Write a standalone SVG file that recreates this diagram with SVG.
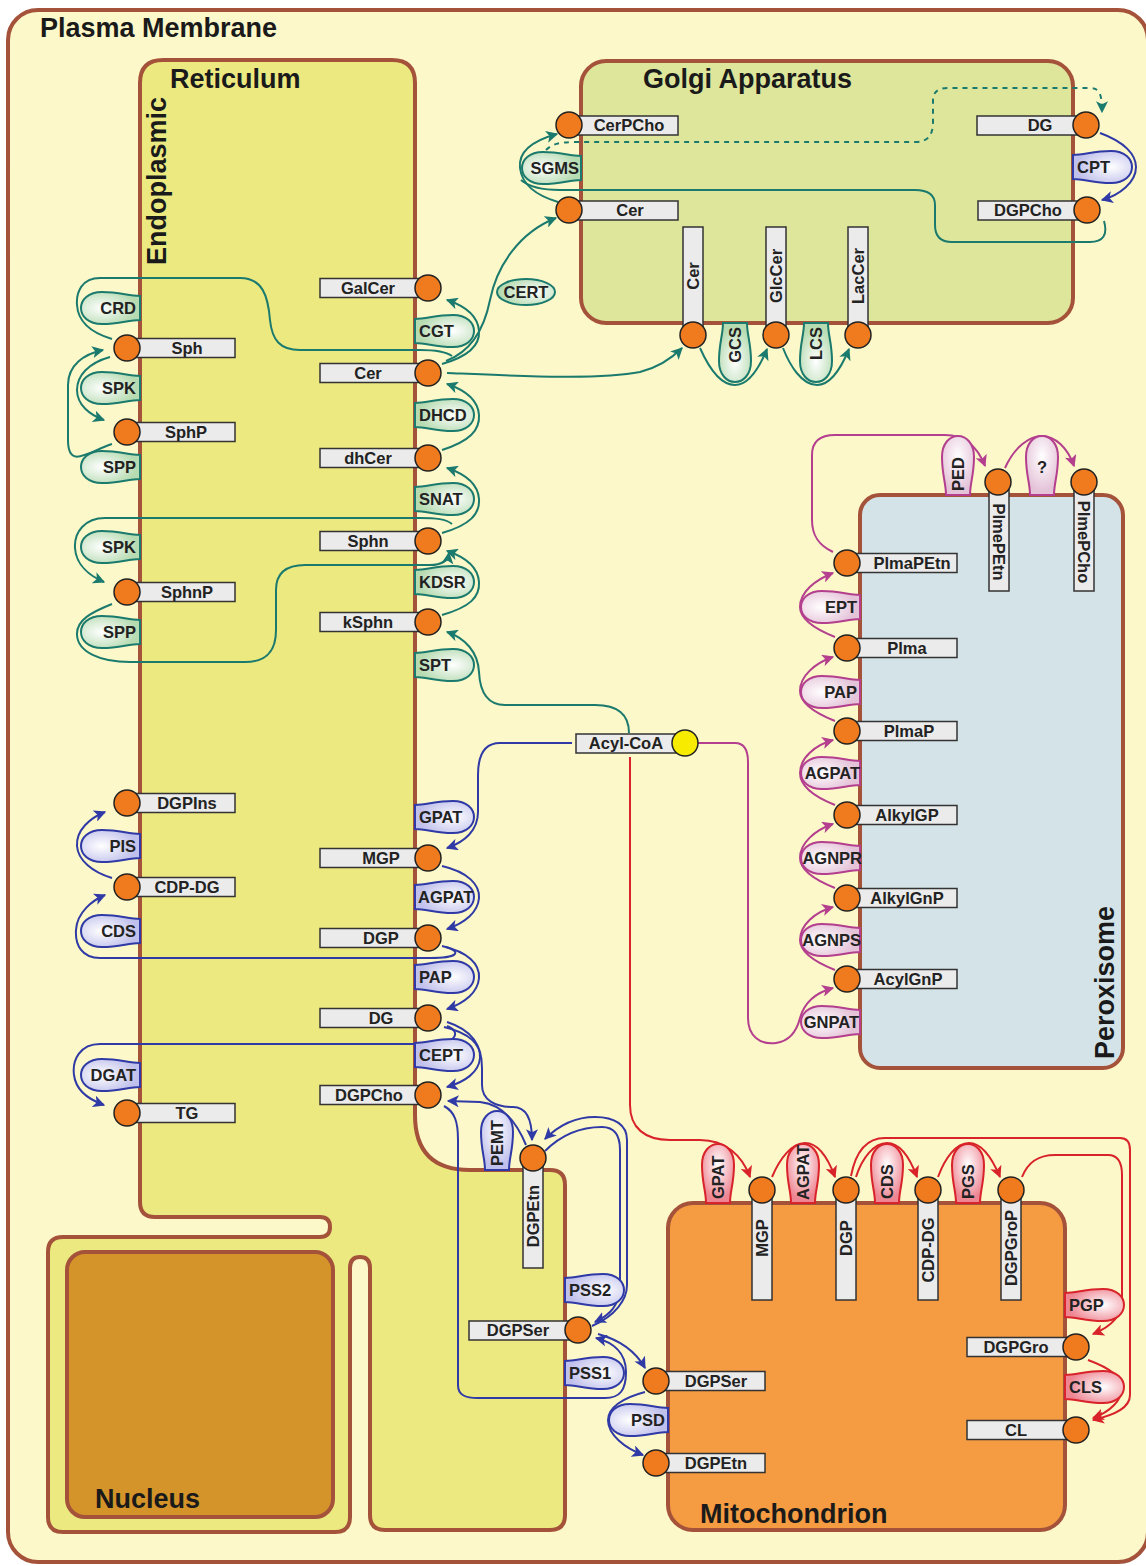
<svg xmlns="http://www.w3.org/2000/svg" xmlns:xlink="http://www.w3.org/1999/xlink" width="1146" height="1566" viewBox="0 0 1146 1566">
<style>
.mem{stroke:#a5523b;stroke-width:4}
.box{fill:#ebebeb;stroke:#333;stroke-width:1.5}
.dot{fill:#f07a1e;stroke:#222;stroke-width:1.5}
.yel{fill:#f7ec00;stroke:#222;stroke-width:1.5}
.lbl{font-family:"Liberation Sans",Arial,sans-serif;font-weight:bold;font-size:16.5px;fill:#222}
.mid{text-anchor:middle}
.end{text-anchor:end}
.title{font-family:"Liberation Sans",Arial,sans-serif;font-weight:bold;font-size:27px;fill:#1a1a1a}
.eg{fill:url(#gG);stroke:#1b7a6e;stroke-width:2}
.eb{fill:url(#gB);stroke:#2f3aa6;stroke-width:2}
.ep{fill:url(#gP);stroke:#b33f8e;stroke-width:2}
.er{fill:url(#gR);stroke:#d8232a;stroke-width:2}
.cg{fill:none;stroke:#1b7a6e;stroke-width:2}
.cb{fill:none;stroke:#2f3aa6;stroke-width:2}
.cp{fill:none;stroke:#b33f8e;stroke-width:2}
.cr{fill:none;stroke:#d8232a;stroke-width:2}
.ag{marker-end:url(#aG)}
.ab{marker-end:url(#aB)}
.ap{marker-end:url(#aP)}
.ar{marker-end:url(#aR)}
.dash{stroke-dasharray:5 5}
</style>
<defs>
<radialGradient id="gG" cx="0.65" cy="0.5" r="0.6"><stop offset="0" stop-color="#ffffff"/><stop offset="1" stop-color="#b6dbb1"/></radialGradient>
<radialGradient id="gB" cx="0.65" cy="0.5" r="0.6"><stop offset="0" stop-color="#ffffff"/><stop offset="1" stop-color="#c0c0ec"/></radialGradient>
<radialGradient id="gP" cx="0.65" cy="0.5" r="0.6"><stop offset="0" stop-color="#ffffff"/><stop offset="1" stop-color="#e4c2d8"/></radialGradient>
<radialGradient id="gR" cx="0.65" cy="0.5" r="0.6"><stop offset="0" stop-color="#ffffff"/><stop offset="1" stop-color="#ee8592"/></radialGradient>
<path id="bulb" d="M0,-12 C12,-12 20,-16 38,-16 C66,-16 66,16 38,16 C20,16 12,12 0,12 Z"/>
<marker id="aG" viewBox="0 0 10 10" refX="9" refY="5" markerWidth="12" markerHeight="12" markerUnits="userSpaceOnUse" orient="auto"><path d="M0,0 L10,5 L0,10 L2.5,5 Z" fill="#1b7a6e"/></marker>
<marker id="aB" viewBox="0 0 10 10" refX="9" refY="5" markerWidth="12" markerHeight="12" markerUnits="userSpaceOnUse" orient="auto"><path d="M0,0 L10,5 L0,10 L2.5,5 Z" fill="#2f3aa6"/></marker>
<marker id="aP" viewBox="0 0 10 10" refX="9" refY="5" markerWidth="12" markerHeight="12" markerUnits="userSpaceOnUse" orient="auto"><path d="M0,0 L10,5 L0,10 L2.5,5 Z" fill="#b33f8e"/></marker>
<marker id="aR" viewBox="0 0 10 10" refX="9" refY="5" markerWidth="12" markerHeight="12" markerUnits="userSpaceOnUse" orient="auto"><path d="M0,0 L10,5 L0,10 L2.5,5 Z" fill="#d8232a"/></marker>
</defs>

<g id="compartments">
<rect id="plasma" class="mem" x="8" y="10" width="1140" height="1552" rx="30" fill="#fdf8c9"/>
<text class="title" x="40" y="37">Plasma Membrane</text>
<path id="er" class="mem" fill="#ece981" d="M 165,60 H 392 Q 415,60 415,83 V 1115 Q 415,1170 470,1170 H 550 Q 565,1170 565,1185 V 1515 Q 565,1530 550,1530 H 385 Q 370,1530 370,1515 V 1268 Q 370,1257 360,1257 Q 350,1257 350,1268 V 1517 Q 350,1532 335,1532 H 63 Q 48,1532 48,1517 V 1252 Q 48,1237 63,1237 H 320 Q 330,1237 330,1227 Q 330,1217 320,1217 H 155 Q 140,1217 140,1202 V 83 Q 140,60 163,60 Z"/>
<text class="title" x="170" y="88">Reticulum</text>
<text class="title" transform="translate(166,265) rotate(-90)">Endoplasmic</text>
<rect id="nucleus" class="mem" x="67" y="1252" width="266" height="265" rx="18" fill="#d49429"/>
<text class="title" x="95" y="1508">Nucleus</text>
<rect id="golgi" class="mem" x="581" y="61" width="492" height="262" rx="25" fill="#dde69b"/>
<text class="title" x="643" y="88">Golgi Apparatus</text>
<rect id="peroxisome" class="mem" x="860" y="495" width="263" height="573" rx="20" fill="#d4e3e7"/>
<text class="title" transform="translate(1114,1059) rotate(-90)">Peroxisome</text>
<rect id="mitochondrion" class="mem" x="668" y="1203" width="397" height="327" rx="25" fill="#f59b42"/>
<text class="title" x="700" y="1523">Mitochondrion</text>
</g>

<g id="connectors">
<path class="cg ag" d="M 442,364 C 470,356 480,345 479,331 C 478,316 465,306 447,300"/>
<path class="cg ag" d="M 442,450 C 470,441 480,430 479,415 C 478,400 465,390 447,384"/>
<path class="cg ag" d="M 442,533 C 470,525 480,514 479,499 C 478,484 465,474 447,468"/>
<path class="cg ag" d="M 442,615 C 470,607 480,597 479,582 C 478,567 465,557 447,551"/>
<path class="cg ag" d="M 629,733 C 629,714 618,705 595,705 L 505,705 C 487,705 480,692 479,672 C 478,652 465,638 447,632"/>
<path class="cg ag" d="M 452,524 C 446,519 436,518 420,518 L 105,518 C 85,518 74,532 75,548 C 76,565 90,576 104,582"/>
<path class="cg ag" d="M 112,604 C 92,612 76,620 77,635 C 78,652 100,662 130,662 L 245,662 C 266,662 276,652 276,630 L 276,590 C 276,573 286,565 305,565 L 430,565 C 442,565 448,560 449,553"/>
<path class="cg" d="M 452,356 C 445,351 435,350 420,350 L 300,350 C 280,350 272,340 270,320 C 268,295 262,278 240,278 L 100,278 C 82,278 76,292 77,305 C 78,322 92,333 112,339"/>
<path class="cg ag" d="M 110,357 C 88,363 77,376 77,390 C 77,405 90,415 104,420"/>
<path class="cg ag" d="M 112,444 C 88,452 68,470 68,440 L 68,385 C 68,365 84,354 103,350"/>
<path class="cg ag" d="M 446,361 C 470,352 484,330 490,300 C 497,265 520,232 556,218"/>
<path class="cg ag" d="M 447,373 C 520,376 600,380 640,372 C 660,367 672,358 682,348"/>
<path class="cg ag" d="M 558,202 C 538,196 522,185 520,168 C 518,150 535,140 557,134"/>
<path class="cg" d="M 1104,221 C 1108,235 1103,242 1090,242 L 952,242 C 940,242 935,235 935,225 L 935,205 C 935,195 928,190 915,190 L 560,190 C 540,190 528,186 521,180"/>
<path class="cg ag dash" d="M 546,150 C 552,144 560,142 575,142 L 915,142 C 928,142 933,135 933,122 L 933,100 C 933,92 938,88 948,88 L 1090,88 C 1100,88 1102,95 1102,112"/>
<path class="cg ag" d="M 700,348 C 708,366 720,385 735,385 C 750,385 760,366 767,349"/>
<path class="cg ag" d="M 783,348 C 790,366 802,385 817,385 C 832,385 842,366 849,349"/>
<path class="cb ab" d="M 1100,133 C 1125,142 1136,155 1136,167 C 1136,182 1120,195 1102,200"/>
<path class="cb ab" d="M 572,743 L 500,743 C 485,743 478,755 478,775 L 478,812 C 478,830 465,842 447,848"/>
<path class="cb ab" d="M 442,866 C 468,872 480,885 479,898 C 478,912 465,923 447,929"/>
<path class="cb ab" d="M 442,946 C 468,952 480,964 479,978 C 478,992 465,1003 447,1009"/>
<path class="cb ab" d="M 446,947 C 462,952 458,958 430,958 L 100,958 C 82,958 75,945 76,930 C 77,912 93,900 105,895"/>
<path class="cb ab" d="M 112,878 C 92,872 78,860 77,846 C 76,830 90,818 105,812"/>
<path class="cb ab" d="M 447,1026 C 462,1032 456,1044 430,1044 L 100,1044 C 80,1044 72,1060 74,1075 C 76,1092 90,1100 104,1105"/>
<path class="cb ab" d="M 444,1027 C 470,1033 481,1045 480,1058 C 479,1072 465,1082 447,1087"/>
<path class="cb ab" d="M 447,1022 C 472,1030 482,1045 482,1068 L 482,1085 C 482,1100 495,1107 513,1107 C 527,1107 532,1120 532,1140"/>
<path class="cb ab" d="M 526,1145 C 515,1118 500,1104 480,1102 L 448,1101"/>
<path class="cb ab" d="M 444,1106 C 455,1112 458,1122 458,1140 L 458,1385 C 458,1395 465,1398 478,1398 L 605,1398 C 620,1398 626,1390 626,1372 C 626,1352 612,1342 596,1338"/>
<path class="cb ab" d="M 545,1151 C 560,1136 580,1127 602,1127 C 614,1127 620,1135 620,1150 L 620,1285 C 620,1305 610,1315 595,1322"/>
<path class="cb ab" d="M 592,1326 C 615,1316 627,1300 627,1285 L 627,1140 C 627,1125 615,1117 595,1117 C 575,1117 558,1126 545,1139"/>
<path class="cb ab" d="M 598,1334 C 620,1340 636,1352 645,1368"/>
<path class="cb ab" d="M 645,1392 C 622,1398 608,1408 608,1420 C 608,1435 625,1448 643,1455"/>
<path class="cp ap" d="M 698,743 L 735,743 C 744,743 748,750 748,762 L 748,1018 C 748,1036 760,1045 776,1043 C 790,1041 797,1030 800,1018 C 805,1000 818,992 833,988"/>
<path class="cp ap" d="M 835,970 C 815,962 800,952 800,940 C 800,925 815,912 833,907"/>
<path class="cp ap" d="M 835,888 C 815,880 800,870 800,858 C 800,843 815,830 833,824"/>
<path class="cp ap" d="M 835,805 C 815,797 800,786 800,773 C 800,758 815,745 833,740"/>
<path class="cp ap" d="M 835,721 C 815,713 800,703 800,691 C 800,676 815,663 833,657"/>
<path class="cp ap" d="M 835,637 C 815,629 800,619 800,607 C 800,592 815,580 833,573"/>
<path class="cp ap" d="M 833,552 C 818,545 812,535 812,520 L 812,455 C 812,442 820,435 835,435 L 945,435 C 965,435 978,448 985,466"/>
<path class="cp ap" d="M 1005,468 C 1015,446 1030,436 1042,436 C 1055,436 1068,448 1074,466"/>
<path class="cr ar" d="M 630,757 L 630,1105 C 630,1128 645,1140 670,1140 L 700,1140 C 725,1140 742,1155 750,1177"/>
<path class="cr ar" d="M 772,1177 C 780,1158 792,1143 805,1143 C 818,1143 828,1158 835,1177"/>
<path class="cr ar" d="M 856,1177 C 862,1158 874,1143 887,1143 C 900,1143 910,1158 917,1177"/>
<path class="cr ar" d="M 938,1177 C 945,1158 956,1143 969,1143 C 982,1143 992,1158 1000,1177"/>
<path class="cr ar" d="M 851,1176 C 855,1155 865,1138 885,1138 L 1120,1138 C 1127,1138 1130,1142 1130,1150 L 1130,1395 C 1130,1408 1115,1415 1093,1420"/>
<path class="cr ar" d="M 1022,1177 C 1028,1162 1038,1155 1055,1155 L 1108,1155 C 1118,1155 1122,1162 1122,1175 L 1122,1300 C 1122,1318 1108,1328 1093,1334"/>
<path class="cr ar" d="M 1088,1360 C 1110,1368 1122,1378 1122,1388 C 1122,1400 1110,1412 1093,1418"/>
</g>

<g id="enzymes">
<g id="e_cgt"><use href="#bulb" class="eg" transform="translate(415,331)"/><text class="lbl" x="419" y="337">CGT</text></g>
<g id="e_dhcd"><use href="#bulb" class="eg" transform="translate(415,415)"/><text class="lbl" x="419" y="421">DHCD</text></g>
<g id="e_snat"><use href="#bulb" class="eg" transform="translate(415,499)"/><text class="lbl" x="419" y="505">SNAT</text></g>
<g id="e_kdsr"><use href="#bulb" class="eg" transform="translate(415,582)"/><text class="lbl" x="419" y="588">KDSR</text></g>
<g id="e_spt"><use href="#bulb" class="eg" transform="translate(415,665)"/><text class="lbl" x="419" y="671">SPT</text></g>
<g id="e_gpat_er"><use href="#bulb" class="eb" transform="translate(415,817)"/><text class="lbl" x="419" y="823">GPAT</text></g>
<g id="e_agpat_er"><use href="#bulb" class="eb" transform="translate(415,897)"/><text class="lbl" x="418" y="903">AGPAT</text></g>
<g id="e_pap_er"><use href="#bulb" class="eb" transform="translate(415,977)"/><text class="lbl" x="419" y="983">PAP</text></g>
<g id="e_cept"><use href="#bulb" class="eb" transform="translate(415,1055)"/><text class="lbl" x="419" y="1061">CEPT</text></g>
<g id="e_crd"><use href="#bulb" class="eg" transform="translate(140,308) scale(-1,1)"/><text class="lbl end" x="136" y="314">CRD</text></g>
<g id="e_spk1"><use href="#bulb" class="eg" transform="translate(140,388) scale(-1,1)"/><text class="lbl end" x="136" y="394">SPK</text></g>
<g id="e_spp1"><use href="#bulb" class="eg" transform="translate(140,467) scale(-1,1)"/><text class="lbl end" x="136" y="473">SPP</text></g>
<g id="e_spk2"><use href="#bulb" class="eg" transform="translate(140,547) scale(-1,1)"/><text class="lbl end" x="136" y="553">SPK</text></g>
<g id="e_spp2"><use href="#bulb" class="eg" transform="translate(140,632) scale(-1,1)"/><text class="lbl end" x="136" y="638">SPP</text></g>
<g id="e_pis"><use href="#bulb" class="eb" transform="translate(140,846) scale(-1,1)"/><text class="lbl end" x="136" y="852">PIS</text></g>
<g id="e_cds_er"><use href="#bulb" class="eb" transform="translate(140,931) scale(-1,1)"/><text class="lbl end" x="136" y="937">CDS</text></g>
<g id="e_dgat"><use href="#bulb" class="eb" transform="translate(140,1075) scale(-1,1)"/><text class="lbl end" x="136" y="1081">DGAT</text></g>
<g id="e_sgms"><use href="#bulb" class="eg" transform="translate(581,168) scale(-1,1)"/><text class="lbl end" x="579" y="174">SGMS</text></g>
<g id="e_cpt"><use href="#bulb" class="eb" transform="translate(1073,167)"/><text class="lbl" x="1077" y="173">CPT</text></g>
<g id="e_gcs"><use href="#bulb" class="eg" transform="translate(735,323) rotate(90)"/><text class="lbl end" transform="translate(741,327) rotate(-90)">GCS</text></g>
<g id="e_lcs"><use href="#bulb" class="eg" transform="translate(816,323) rotate(90)"/><text class="lbl end" transform="translate(822,327) rotate(-90)">LCS</text></g>
<g id="e_cert"><ellipse class="eg" cx="526" cy="292" rx="29" ry="13"/><text class="lbl mid" x="526" y="298">CERT</text></g>
<g id="e_ept"><use href="#bulb" class="ep" transform="translate(860,607) scale(-1,1)"/><text class="lbl end" x="857" y="613">EPT</text></g>
<g id="e_pap_px"><use href="#bulb" class="ep" transform="translate(860,692) scale(-1,1)"/><text class="lbl end" x="857" y="698">PAP</text></g>
<g id="e_agpat_px"><use href="#bulb" class="ep" transform="translate(860,773) scale(-1,1)"/><text class="lbl end" x="860" y="779">AGPAT</text></g>
<g id="e_agnpr"><use href="#bulb" class="ep" transform="translate(860,858) scale(-1,1)"/><text class="lbl end" x="862" y="864">AGNPR</text></g>
<g id="e_agnps"><use href="#bulb" class="ep" transform="translate(860,940) scale(-1,1)"/><text class="lbl end" x="861" y="946">AGNPS</text></g>
<g id="e_gnpat"><use href="#bulb" class="ep" transform="translate(860,1022) scale(-1,1)"/><text class="lbl end" x="859" y="1028">GNPAT</text></g>
<g id="e_ped"><use href="#bulb" class="ep" transform="translate(958,495) rotate(-90)"/><text class="lbl" transform="translate(964,491) rotate(-90)">PED</text></g>
<g id="e_unknown"><use href="#bulb" class="ep" transform="translate(1042,495) rotate(-90)"/><text class="lbl mid" x="1042" y="473">?</text></g>
<g id="e_gpat_mt"><use href="#bulb" class="er" transform="translate(718,1203) rotate(-90)"/><text class="lbl" transform="translate(724,1199) rotate(-90)">GPAT</text></g>
<g id="e_agpat_mt"><use href="#bulb" class="er" transform="translate(803,1203) rotate(-90)"/><text class="lbl" transform="translate(809,1200) rotate(-90)">AGPAT</text></g>
<g id="e_cds_mt"><use href="#bulb" class="er" transform="translate(887,1203) rotate(-90)"/><text class="lbl" transform="translate(893,1199) rotate(-90)">CDS</text></g>
<g id="e_pgs"><use href="#bulb" class="er" transform="translate(968,1203) rotate(-90)"/><text class="lbl" transform="translate(974,1199) rotate(-90)">PGS</text></g>
<g id="e_pgp"><use href="#bulb" class="er" transform="translate(1065,1305)"/><text class="lbl" x="1069" y="1311">PGP</text></g>
<g id="e_cls"><use href="#bulb" class="er" transform="translate(1065,1387)"/><text class="lbl" x="1069" y="1393">CLS</text></g>
<g id="e_psd"><use href="#bulb" class="eb" transform="translate(668,1420) scale(-1,1)"/><text class="lbl end" x="665" y="1426">PSD</text></g>
<g id="e_pss2"><use href="#bulb" class="eb" transform="translate(565,1290)"/><text class="lbl" x="569" y="1296">PSS2</text></g>
<g id="e_pss1"><use href="#bulb" class="eb" transform="translate(565,1373)"/><text class="lbl" x="569" y="1379">PSS1</text></g>
<g id="e_pemt"><use href="#bulb" class="eb" transform="translate(497,1170) rotate(-90)"/><text class="lbl" transform="translate(503,1166) rotate(-90)">PEMT</text></g>
</g>

<g id="nodes">
<g id="n_er_galcer"><rect class="box" x="320" y="278.5" width="100" height="19"/><circle class="dot" cx="428" cy="288" r="13"/><text class="lbl mid" x="368" y="294">GalCer</text></g>
<g id="n_er_cer"><rect class="box" x="320" y="363.5" width="100" height="19"/><circle class="dot" cx="428" cy="373" r="13"/><text class="lbl mid" x="368" y="379">Cer</text></g>
<g id="n_er_dhcer"><rect class="box" x="320" y="448.5" width="100" height="19"/><circle class="dot" cx="428" cy="458" r="13"/><text class="lbl mid" x="368" y="464">dhCer</text></g>
<g id="n_er_sphn"><rect class="box" x="320" y="531.5" width="100" height="19"/><circle class="dot" cx="428" cy="541" r="13"/><text class="lbl mid" x="368" y="547">Sphn</text></g>
<g id="n_er_ksphn"><rect class="box" x="320" y="612.5" width="100" height="19"/><circle class="dot" cx="428" cy="622" r="13"/><text class="lbl mid" x="368" y="628">kSphn</text></g>
<g id="n_er_mgp"><rect class="box" x="320" y="848.5" width="100" height="19"/><circle class="dot" cx="428" cy="858" r="13"/><text class="lbl mid" x="381" y="864">MGP</text></g>
<g id="n_er_dgp"><rect class="box" x="320" y="928.5" width="100" height="19"/><circle class="dot" cx="428" cy="938" r="13"/><text class="lbl mid" x="381" y="944">DGP</text></g>
<g id="n_er_dg"><rect class="box" x="320" y="1008.5" width="100" height="19"/><circle class="dot" cx="428" cy="1018" r="13"/><text class="lbl mid" x="381" y="1024">DG</text></g>
<g id="n_er_dgpcho"><rect class="box" x="320" y="1085.5" width="100" height="19"/><circle class="dot" cx="428" cy="1095" r="13"/><text class="lbl mid" x="369" y="1101">DGPCho</text></g>
<g id="n_er_sph"><rect class="box" x="130" y="338.5" width="105" height="19"/><circle class="dot" cx="127" cy="348" r="13"/><text class="lbl mid" x="187" y="354">Sph</text></g>
<g id="n_er_sphp"><rect class="box" x="130" y="422.5" width="105" height="19"/><circle class="dot" cx="127" cy="432" r="13"/><text class="lbl mid" x="186" y="438">SphP</text></g>
<g id="n_er_sphnp"><rect class="box" x="130" y="582.5" width="105" height="19"/><circle class="dot" cx="127" cy="592" r="13"/><text class="lbl mid" x="187" y="598">SphnP</text></g>
<g id="n_er_dgpins"><rect class="box" x="130" y="793.5" width="105" height="19"/><circle class="dot" cx="127" cy="803" r="13"/><text class="lbl mid" x="187" y="809">DGPIns</text></g>
<g id="n_er_cdpdg"><rect class="box" x="130" y="877.5" width="105" height="19"/><circle class="dot" cx="127" cy="887" r="13"/><text class="lbl mid" x="187" y="893">CDP-DG</text></g>
<g id="n_er_tg"><rect class="box" x="130" y="1103.5" width="105" height="19"/><circle class="dot" cx="127" cy="1113" r="13"/><text class="lbl mid" x="187" y="1119">TG</text></g>
<g id="n_er_dgpetn"><rect class="box" x="523" y="1160" width="20" height="108"/><circle class="dot" cx="533" cy="1158" r="13"/><text class="lbl mid" transform="translate(539,1216) rotate(-90)">DGPEtn</text></g>
<g id="n_er_dgpser"><rect class="box" x="469" y="1321" width="100" height="19"/><circle class="dot" cx="578" cy="1330" r="13"/><text class="lbl mid" x="518" y="1336">DGPSer</text></g>
<g id="n_acylcoa"><rect class="box" x="576" y="734" width="100" height="19"/><circle class="yel" cx="685" cy="743" r="13"/><text class="lbl mid" x="626" y="749">Acyl-CoA</text></g>
<g id="n_go_cerpcho"><rect class="box" x="575" y="116" width="103" height="19"/><circle class="dot" cx="569" cy="125" r="13"/><text class="lbl mid" x="629" y="131">CerPCho</text></g>
<g id="n_go_cer"><rect class="box" x="575" y="201" width="103" height="19"/><circle class="dot" cx="569" cy="210" r="13"/><text class="lbl mid" x="630" y="216">Cer</text></g>
<g id="n_go_dg"><rect class="box" x="977" y="116" width="103" height="19"/><circle class="dot" cx="1086" cy="125" r="13"/><text class="lbl mid" x="1040" y="131">DG</text></g>
<g id="n_go_dgpcho"><rect class="box" x="978" y="201" width="103" height="19"/><circle class="dot" cx="1087" cy="210" r="13"/><text class="lbl mid" x="1028" y="216">DGPCho</text></g>
<g id="n_go_cer2"><rect class="box" x="683" y="227" width="20" height="105"/><circle class="dot" cx="693" cy="335" r="13"/><text class="lbl mid" transform="translate(699,276) rotate(-90)">Cer</text></g>
<g id="n_go_glccer"><rect class="box" x="766" y="227" width="20" height="105"/><circle class="dot" cx="776" cy="335" r="13"/><text class="lbl mid" transform="translate(782,276) rotate(-90)">GlcCer</text></g>
<g id="n_go_laccer"><rect class="box" x="848" y="227" width="20" height="105"/><circle class="dot" cx="858" cy="335" r="13"/><text class="lbl mid" transform="translate(864,276) rotate(-90)">LacCer</text></g>
<g id="n_px_plmapetn"><rect class="box" x="855" y="553.5" width="102" height="19"/><circle class="dot" cx="847" cy="563" r="13"/><text class="lbl mid" x="912" y="569">PlmaPEtn</text></g>
<g id="n_px_plma"><rect class="box" x="855" y="638.5" width="102" height="19"/><circle class="dot" cx="847" cy="648" r="13"/><text class="lbl mid" x="907" y="654">Plma</text></g>
<g id="n_px_plmap"><rect class="box" x="855" y="721.5" width="102" height="19"/><circle class="dot" cx="847" cy="731" r="13"/><text class="lbl mid" x="909" y="737">PlmaP</text></g>
<g id="n_px_alkylgp"><rect class="box" x="855" y="805.5" width="102" height="19"/><circle class="dot" cx="847" cy="815" r="13"/><text class="lbl mid" x="907" y="821">AlkylGP</text></g>
<g id="n_px_alkylgnp"><rect class="box" x="855" y="888.5" width="102" height="19"/><circle class="dot" cx="847" cy="898" r="13"/><text class="lbl mid" x="907" y="904">AlkylGnP</text></g>
<g id="n_px_acylgnp"><rect class="box" x="855" y="969.5" width="102" height="19"/><circle class="dot" cx="847" cy="979" r="13"/><text class="lbl mid" x="908" y="985">AcylGnP</text></g>
<g id="n_px_plmepetn"><rect class="box" x="989" y="485" width="20" height="106"/><circle class="dot" cx="998" cy="482" r="13"/><text class="lbl mid" transform="translate(993,542) rotate(90)">PlmePEtn</text></g>
<g id="n_px_plmepcho"><rect class="box" x="1074" y="485" width="20" height="106"/><circle class="dot" cx="1084" cy="482" r="13"/><text class="lbl mid" transform="translate(1078,542) rotate(90)">PlmePCho</text></g>
<g id="n_mt_mgp"><rect class="box" x="752" y="1192" width="20" height="108"/><circle class="dot" cx="762" cy="1190" r="13"/><text class="lbl mid" transform="translate(768,1238) rotate(-90)">MGP</text></g>
<g id="n_mt_dgp"><rect class="box" x="836" y="1192" width="20" height="108"/><circle class="dot" cx="846" cy="1190" r="13"/><text class="lbl mid" transform="translate(852,1238) rotate(-90)">DGP</text></g>
<g id="n_mt_cdpdg"><rect class="box" x="918" y="1192" width="20" height="108"/><circle class="dot" cx="928" cy="1190" r="13"/><text class="lbl mid" transform="translate(934,1250) rotate(-90)">CDP-DG</text></g>
<g id="n_mt_dgpgrop"><rect class="box" x="1001" y="1192" width="20" height="108"/><circle class="dot" cx="1011" cy="1190" r="13"/><text class="lbl mid" transform="translate(1017,1248) rotate(-90)">DGPGroP</text></g>
<g id="n_mt_dgpgro"><rect class="box" x="967" y="1337.5" width="103" height="19"/><circle class="dot" cx="1076" cy="1347" r="13"/><text class="lbl mid" x="1016" y="1353">DGPGro</text></g>
<g id="n_mt_cl"><rect class="box" x="967" y="1420.5" width="103" height="19"/><circle class="dot" cx="1076" cy="1430" r="13"/><text class="lbl mid" x="1016" y="1436">CL</text></g>
<g id="n_mt_dgpser"><rect class="box" x="664" y="1371.5" width="101" height="19"/><circle class="dot" cx="656" cy="1381" r="13"/><text class="lbl mid" x="716" y="1387">DGPSer</text></g>
<g id="n_mt_dgpetn"><rect class="box" x="664" y="1453.5" width="101" height="19"/><circle class="dot" cx="656" cy="1463" r="13"/><text class="lbl mid" x="716" y="1469">DGPEtn</text></g>
</g>
</svg>
